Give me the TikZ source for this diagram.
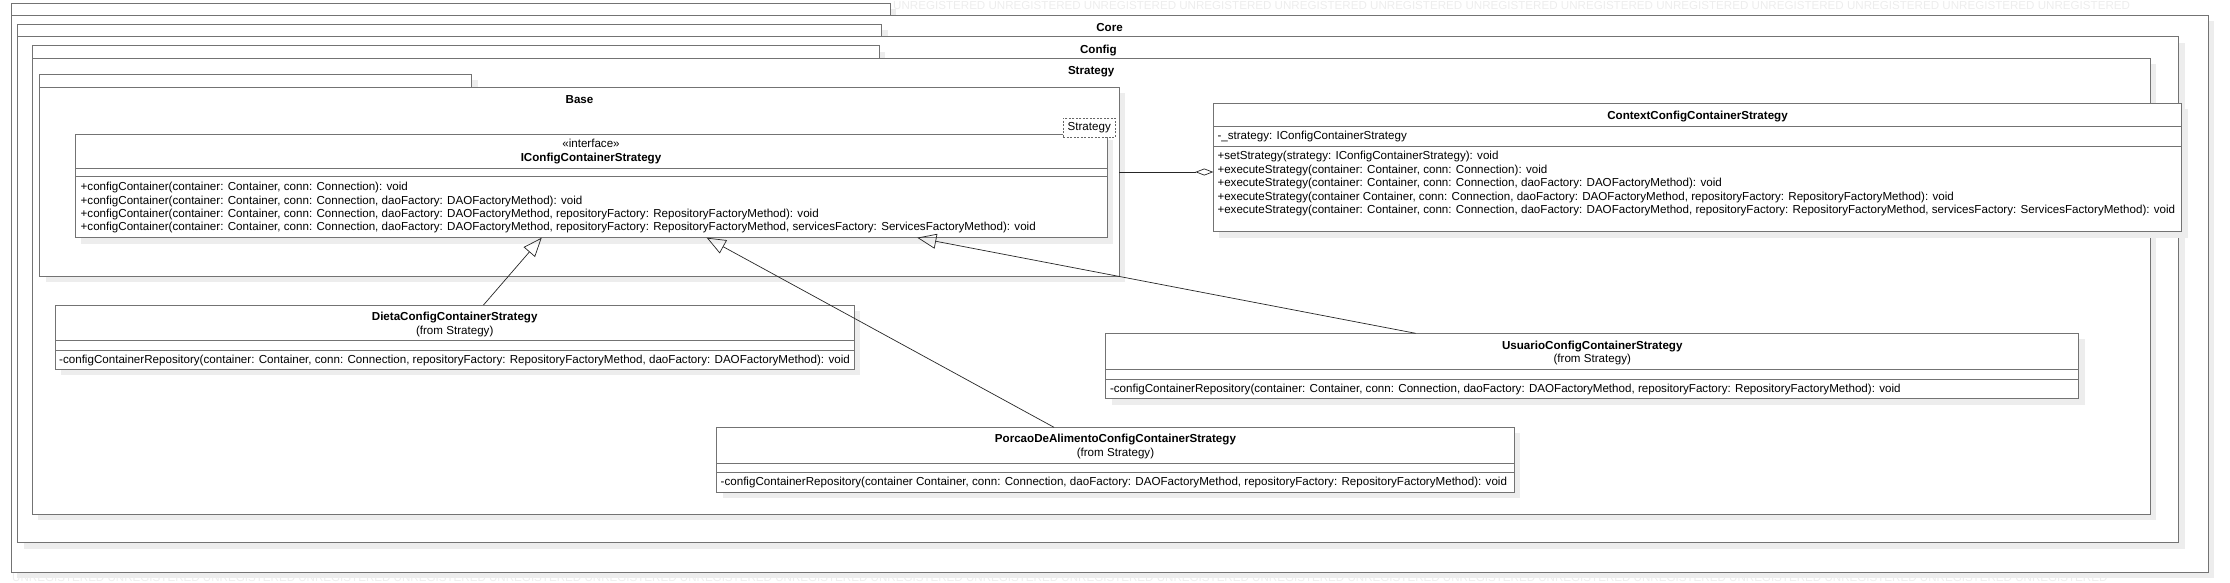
\documentclass[tikz,border=0pt]{standalone}
\usepackage{fontspec}
\setmainfont{Liberation Sans}
\usetikzlibrary{arrows.meta,positioning,calc,shadows}

\newcommand{\umlfont}{\fontsize{11.6}{13.3}\selectfont}
\newcommand{\unregfour}{UNREGISTERED UNREGISTERED UNREGISTERED UNREGISTERED }

\tikzset{
  boxshadow/.style={drop shadow={shadow xshift=6pt, shadow yshift=-6pt, fill=black!7, opacity=1}},
  pkg/.style={rectangle, draw=black!55, line width=0.9pt, fill=white, inner sep=0pt, outer sep=0pt, anchor=north west, boxshadow},
  classbox/.style={pkg},
  pkgname/.style={font=\umlfont\bfseries, anchor=base, inner sep=0pt},
  classname/.style={font=\umlfont\bfseries, anchor=base, inner sep=0pt},
  stereo/.style={anchor=base, inner sep=0pt},
  member/.style={anchor=base west, inner sep=0pt},
  sep/.style={draw=black!55, line width=0.9pt},
  gen/.style={-{Triangle[open, length=19pt, width=15pt]}, draw=black!85, line width=0.7pt},
  agg/.style={-{Diamond[open, length=18pt, width=7pt]}, draw=black!85, line width=0.7pt},
  watermark/.style={anchor=west, inner sep=0pt, text=black!7}
}

\begin{document}
\begin{tikzpicture}[x=1pt, y=-1pt, font=\umlfont]
  \useasboundingbox (0,0) rectangle (2230,582);

  % watermark in the margins
  \node[watermark] (wm-top) at (893,5.5) {\unregfour\unregfour\unregfour UNREGISTERED};
  \node[watermark] (wm-bottom) at (12,577) {\unregfour\unregfour\unregfour\unregfour\unregfour UNREGISTERED UNREGISTERED};

  % packages
  \node[pkg, minimum width=879pt, minimum height=12pt] (core-tab) at (11,3) {};
  \node[pkg, minimum width=2197pt, minimum height=557pt] (core) at (11,15) {};
  \node[pkgname] (core-name) at (1109.5,31.8) {Core};

  \node[pkg, minimum width=864pt, minimum height=12.7pt] (config-tab) at (17.7,24) {};
  \node[pkg, minimum width=2161pt, minimum height=506pt] (config) at (17.7,36.7) {};
  \node[pkgname] (config-name) at (1098.4,53.4) {Config};

  \node[pkg, minimum width=847pt, minimum height=12.6pt] (strategy-tab) at (32.3,45.7) {};
  \node[pkg, minimum width=2118pt, minimum height=456pt] (strategy) at (32.3,58.3) {};
  \node[pkgname] (strategy-name) at (1091.2,74.8) {Strategy};

  \node[pkg, minimum width=432pt, minimum height=13pt] (base-tab) at (39.7,74.3) {};
  \node[pkg, minimum width=1079.6pt, minimum height=188.7pt] (base) at (39.7,87.3) {};
  \node[pkgname] (base-name) at (579.5,103.4) {Base};

  % interface
  \node[classbox, minimum width=1032pt, minimum height=103.4pt] (iface) at (75,134.3) {};
  \draw[sep] ($(iface.north west)+(0,33.7)$) -- ($(iface.north east)+(0,33.7)$);
  \draw[sep] ($(iface.north west)+(0,42.2)$) -- ($(iface.north east)+(0,42.2)$);
  \node[stereo] (iface-stereo) at ($(iface.north)+(0,13.6)$) {«interface»};
  \node[classname] (iface-name) at ($(iface.north)+(0,26.7)$) {IConfigContainerStrategy};
  \foreach \m [count=\i from 0] in {
      {+configContainer(container: Container, conn: Connection): void},
      {+configContainer(container: Container, conn: Connection, daoFactory: DAOFactoryMethod): void},
      {+configContainer(container: Container, conn: Connection, daoFactory: DAOFactoryMethod, repositoryFactory: RepositoryFactoryMethod): void},
      {+configContainer(container: Container, conn: Connection, daoFactory: DAOFactoryMethod, repositoryFactory: RepositoryFactoryMethod, servicesFactory: ServicesFactoryMethod): void}}
    \node[member] (iface-m\i) at ($(iface.north west)+(5.5,{56.5+13.3*\i})$) {\m};
  \node[rectangle, draw=black!60, dash pattern=on 2pt off 1.5pt, fill=white, minimum width=51.7pt, minimum height=19.6pt, inner sep=0pt] (iface-tmpl) at (1089.2,127.5) {Strategy};

  % context
  \node[classbox, minimum width=968.4pt, minimum height=128.4pt] (ctx) at (1213.3,103.3) {};
  \draw[sep] ($(ctx.north west)+(0,22.7)$) -- ($(ctx.north east)+(0,22.7)$);
  \draw[sep] ($(ctx.north west)+(0,43.4)$) -- ($(ctx.north east)+(0,43.4)$);
  \node[classname] (ctx-name) at ($(ctx.north)+(0,15.8)$) {ContextConfigContainerStrategy};
  \node[member] (ctx-attr) at ($(ctx.north west)+(4,36.5)$) {-\_strategy: IConfigContainerStrategy};
  \foreach \m [count=\i from 0] in {
      {+setStrategy(strategy: IConfigContainerStrategy): void},
      {+executeStrategy(container: Container, conn: Connection): void},
      {+executeStrategy(container: Container, conn: Connection, daoFactory: DAOFactoryMethod): void},
      {+executeStrategy(container Container, conn: Connection, daoFactory: DAOFactoryMethod, repositoryFactory: RepositoryFactoryMethod): void},
      {+executeStrategy(container: Container, conn: Connection, daoFactory: DAOFactoryMethod, repositoryFactory: RepositoryFactoryMethod, servicesFactory: ServicesFactoryMethod): void}}
    \node[member] (ctx-m\i) at ($(ctx.north west)+(4,{56.1+13.6*\i})$) {\m};

  % concrete strategies
  \node[classbox, minimum width=799.4pt, minimum height=64.3pt] (dieta) at (55,305) {};
  \draw[sep] ($(dieta.north west)+(0,35.7)$) -- ($(dieta.north east)+(0,35.7)$);
  \draw[sep] ($(dieta.north west)+(0,45)$) -- ($(dieta.north east)+(0,45)$);
  \node[classname] (dieta-name) at ($(dieta.north)+(0,15.5)$) {DietaConfigContainerStrategy};
  \node[stereo] (dieta-from) at ($(dieta.north)+(0,29)$) {(from Strategy)};
  \node[member] (dieta-m0) at ($(dieta.north west)+(4,58.7)$) {-configContainerRepository(container: Container, conn: Connection, repositoryFactory: RepositoryFactoryMethod, daoFactory: DAOFactoryMethod): void};

  \node[classbox, minimum width=972.9pt, minimum height=65.4pt] (usuario) at (1105.8,333.3) {};
  \draw[sep] ($(usuario.north west)+(0,36)$) -- ($(usuario.north east)+(0,36)$);
  \draw[sep] ($(usuario.north west)+(0,45.7)$) -- ($(usuario.north east)+(0,45.7)$);
  \node[classname] (usuario-name) at ($(usuario.north)+(0,16)$) {UsuarioConfigContainerStrategy};
  \node[stereo] (usuario-from) at ($(usuario.north)+(0,29.4)$) {(from Strategy)};
  \node[member] (usuario-m0) at ($(usuario.north west)+(4,58.8)$) {-configContainerRepository(container: Container, conn: Connection, daoFactory: DAOFactoryMethod, repositoryFactory: RepositoryFactoryMethod): void};

  \node[classbox, minimum width=797.9pt, minimum height=65pt] (porcao) at (716.5,427.3) {};
  \draw[sep] ($(porcao.north west)+(0,36)$) -- ($(porcao.north east)+(0,36)$);
  \draw[sep] ($(porcao.north west)+(0,45.4)$) -- ($(porcao.north east)+(0,45.4)$);
  \node[classname] (porcao-name) at ($(porcao.north)+(0,15.5)$) {PorcaoDeAlimentoConfigContainerStrategy};
  \node[stereo] (porcao-from) at ($(porcao.north)+(0,28.8)$) {(from Strategy)};
  \node[member] (porcao-m0) at ($(porcao.north west)+(4,58.5)$) {-configContainerRepository(container Container, conn: Connection, daoFactory: DAOFactoryMethod, repositoryFactory: RepositoryFactoryMethod): void};

  % relations
  \coordinate (agg-start) at (1119.3,172);
  \draw[agg] (agg-start) -- (agg-start -| ctx.west);
  \draw[gen] ($(dieta.north west)+(428.5,0)$) -- ($(iface.south west)+(466.7,0)$);
  \draw[gen] ($(porcao.north west)+(337.5,0)$) -- ($(iface.south west)+(631.7,0)$);
  \draw[gen] ($(usuario.north west)+(309.8,0)$) -- ($(iface.south west)+(842.3,0)$);
\end{tikzpicture}
\end{document}
